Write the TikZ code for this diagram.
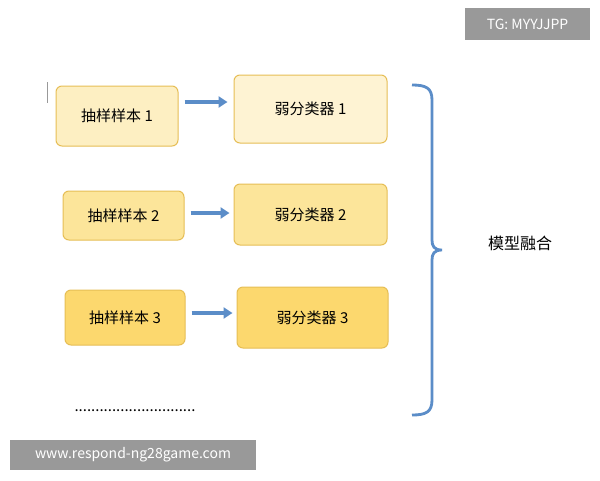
\documentclass[tikz,border=0pt]{standalone}
\usepackage{fontspec}
\setmainfont{Noto Sans CJK SC}
\usetikzlibrary{arrows.meta}
\definecolor{bl}{HTML}{5B8DC8}
\definecolor{bd}{HTML}{E6BE55}
\tikzset{x=1pt,y=-1pt,
 box/.style={draw=bd, fill=#1, rounded corners=6pt, line width=1pt, font=\fontsize{15}{17}\selectfont},
 arr/.style={draw=bl, line width=3.2pt, -{Triangle[length=9pt,width=11pt]}},
 tag/.style={fill=black!40, text=white, font=\fontsize{14}{16}\selectfont, inner sep=0pt}}
\definecolor{y1}{HTML}{FDEFC2}
\definecolor{y2}{HTML}{FCE59A}
\definecolor{y3}{HTML}{FCD86E}
\definecolor{w1}{HTML}{FEF3D3}
\begin{document}
\begin{tikzpicture}
\useasboundingbox (0,0) rectangle (600,480);
\fill[white] (0,0) rectangle (600,480);
\node[box=y1, minimum width=122pt, minimum height=60pt] (s1) at (117,116) {抽样样本 1};
\node[box=y2, minimum width=121pt, minimum height=49pt] (s2) at (123.5,215.5) {抽样样本 2};
\node[box=y3, minimum width=120pt, minimum height=55pt] (s3) at (125,317.5) {抽样样本 3};
\node[box=w1, minimum width=153pt, minimum height=68pt] (c1) at (310.5,109) {弱分类器 1};
\node[box=y2, minimum width=153pt, minimum height=61pt] (c2) at (310.5,214.5) {弱分类器 2};
\node[box=y3, minimum width=151pt, minimum height=61pt] (c3) at (312.5,317.5) {弱分类器 3};
\draw[arr] (s1.east |- 0,102) ++(6,0) -- ([xshift=-6pt]c1.west |- 0,102);
\draw[arr] (s2.east |- 0,213) ++(6,0) -- ([xshift=-4pt]c2.west |- 0,213);
\draw[arr] (s3.east |- 0,313) ++(6,0) -- ([xshift=-4pt]c3.west |- 0,313);
\coordinate (bt) at (412,85);
\coordinate (bb) at (412,415);
\draw[bl, line width=2.8pt] (bt) .. controls (426,85) and (432,88) .. (432,100)
  -- (432,240) .. controls (432,246) and (434,250) .. (442,250)
  .. controls (434,250) and (432,254) .. (432,260)
  -- (432,400) .. controls (432,412) and (426,415) .. (bb);
\node[font=\fontsize{16}{18}\selectfont] (m) at (520,243) {模型融合};
\node[font=\fontsize{15}{17}\selectfont, inner sep=0pt] (d) at (135,411) {.............................};
\draw[black!40, line width=0.8pt] (47,82) -- (47,103);
\node[tag, minimum width=125pt, minimum height=32pt] (tg) at (527.5,24) {TG: MYYJJPP};
\node[tag, minimum width=246pt, minimum height=30pt] (w) at (133,455) {www.respond-ng28game.com};
\end{tikzpicture}
\end{document}
